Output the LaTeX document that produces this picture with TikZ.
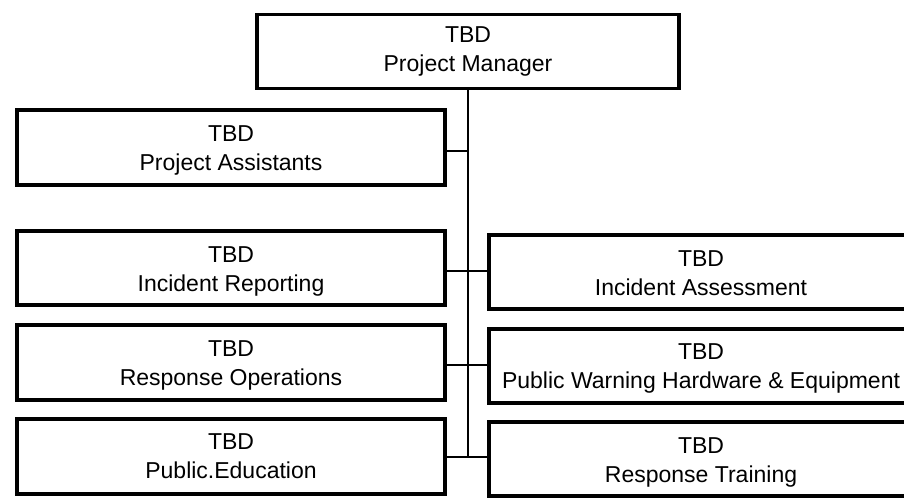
\documentclass[tikz,border=0pt]{standalone}
\usepackage{fontspec}
\setmainfont{Liberation Sans}
\begin{document}
\begin{tikzpicture}[x=1pt,y=-1pt,
  box/.style={draw, line width=3.5pt, inner sep=0pt},
  lbl/.style={inner sep=0pt, align=center, anchor=north,
    font=\fontsize{23}{29}\selectfont},
  link/.style={line width=1.3pt}]
\useasboundingbox (0,0) rectangle (904,499);
\clip (0,0) rectangle (904,499);
% boxes
\node[box, minimum width=422pt, minimum height=74pt] (top) at (468,51.5) {};
\node[box, minimum width=428pt, minimum height=75pt] (pa) at (231,147.5) {};
\node[box, minimum width=428pt, minimum height=74pt] (ir) at (231,268) {};
\node[box, minimum width=428pt, minimum height=75pt] (ro) at (231,362.5) {};
\node[box, minimum width=428pt, minimum height=75pt] (pe) at (231,456.5) {};
\node[box, minimum width=424pt, minimum height=74pt] (ia) at (701,272) {};
\node[box, minimum width=424pt, minimum height=74pt] (pw) at (701,366) {};
\node[box, minimum width=424pt, minimum height=74pt] (rt) at (701,459) {};
% texts
\node[lbl] (topt) at ([yshift=-14pt]top.north) {TBD\\Project Manager};
\node[lbl] (pat) at ([yshift=-17pt]pa.north) {TBD\\Project Assistants};
\node[lbl] (irt) at ([yshift=-17pt]ir.north) {TBD\\Incident Reporting};
\node[lbl] (rot) at ([yshift=-17pt]ro.north) {TBD\\Response Operations};
\node[lbl] (pet) at ([yshift=-16pt]pe.north) {TBD\\Public.Education};
\node[lbl] (iat) at ([yshift=-17pt]ia.north) {TBD\\Incident Assessment};
\node[lbl] (pwt) at ([yshift=-16pt]pw.north) {TBD\\Public Warning Hardware \& Equipment};
\node[lbl] (rtt) at ([yshift=-17pt]rt.north) {TBD\\Response Training};
% connectors
\coordinate (j1) at (468,151);
\coordinate (j2) at (468,271);
\coordinate (j3) at (468,365);
\coordinate (j4) at (468,457);
\draw[link] (top.south) -- (j4);
\draw[link] (pa.east |- j1) -- (j1);
\draw[link] (ir.east |- j2) -- (ia.west |- j2);
\draw[link] (ro.east |- j3) -- (pw.west |- j3);
\draw[link] (pe.east |- j4) -- (rt.west |- j4);
\end{tikzpicture}
\end{document}
